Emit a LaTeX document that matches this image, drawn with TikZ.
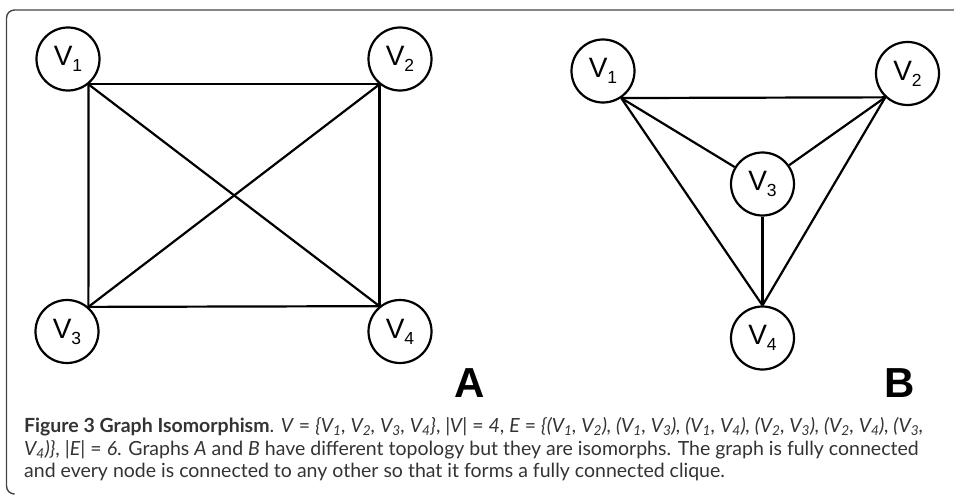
\documentclass[tikz,border=0pt]{standalone}
\usepackage{fontspec}
\setmainfont{Liberation Sans}
\newfontfamily\capfont{Lato}
\definecolor{captxt}{HTML}{333333}
\definecolor{framecol}{HTML}{444444}
\newcommand{\vlab}[1]{{\fontsize{28}{28}\selectfont V}\raisebox{-6pt}{\fontsize{17.5}{18}\selectfont #1}}
\begin{document}
\begin{tikzpicture}[x=1pt,y=-1pt,
  vert/.style={circle,draw,line width=2.2pt,minimum size=63pt,inner sep=0pt},
  edge/.style={line width=2.2pt},
  panel/.style={font=\fontsize{42}{42}\selectfont\bfseries,inner sep=0pt},
  capline/.style={anchor=base west,inner sep=0pt,text=captxt,font=\capfont\fontsize{19.5}{22}\selectfont}]
\useasboundingbox (0,0) rectangle (954,495);
% frame
\draw[framecol,line width=1.4pt,rounded corners=8pt] (954,10) -- (6.5,10) -- (6.5,494) -- (14,494);
% graph A
\node[vert] (a1) at (68,59) {\vlab{1}};
\node[vert] (a2) at (400,59) {\vlab{2}};
\node[vert] (a3) at (67,331.5) {\vlab{3}};
\node[vert] (a4) at (400,331.5) {\vlab{4}};
\draw[edge] (a1.-51) -- (a2.-129);
\draw[edge] (a1.-51) -- (a3.49);
\draw[edge] (a1.-51) -- (a4.129);
\draw[edge] (a2.-129) -- (a3.49);
\draw[edge] (a2.-129) -- (a4.129);
\draw[edge] (a3.49) -- (a4.129);
% graph B
\node[vert] (b1) at (603,71) {\vlab{1}};
\node[vert] (b2) at (907.5,73.5) {\vlab{2}};
\node[vert] (b3) at (762.5,184) {\vlab{3}};
\node[vert] (b4) at (762.5,338) {\vlab{4}};
\draw[edge] (b1.-56) -- (b2.-133);
\draw[edge] (b1.-56) -- (b3);
\draw[edge] (b1.-56) -- (b4.north);
\draw[edge] (b2.-133) -- (b3);
\draw[edge] (b2.-133) -- (b4.north);
\draw[edge] (b3.south) -- (b4.north);
% panel labels
\node[panel] (la) at (470,383) {A};
\node[panel] (lb) at (900,383) {B};
% caption
\node[capline] (c1) at (24,432) {\textbf{Figure 3 Graph Isomorphism}. \textit{V} = \textit{\{V\textsubscript{1}, V\textsubscript{2}, V\textsubscript{3}, V\textsubscript{4}\}}, \textit{|V|} = \textit{4}, \textit{E} = \textit{\{(V\textsubscript{1}, V\textsubscript{2}), (V\textsubscript{1}, V\textsubscript{3}), (V\textsubscript{1}, V\textsubscript{4}), (V\textsubscript{2}, V\textsubscript{3}), (V\textsubscript{2}, V\textsubscript{4}), (V\textsubscript{3},}};
\node[capline] (c2) at (24,455) {\textit{V\textsubscript{4})\}}, \textit{|E|} = \textit{6}. Graphs \textit{A} and \textit{B} have different topology but they are isomorphs. The graph is fully connected};
\node[capline] (c3) at (24,477) {and every node is connected to any other so that it forms a fully connected clique.};
\end{tikzpicture}
\end{document}
